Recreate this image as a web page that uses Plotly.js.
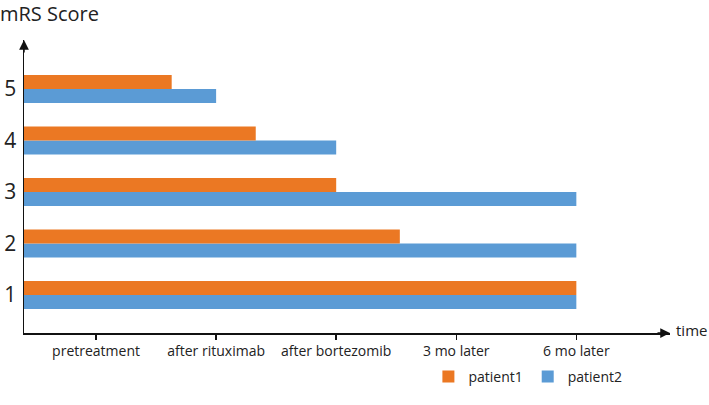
<!DOCTYPE html>
<html>
<head>
<meta charset="utf-8">
<script src="https://cdn.plot.ly/plotly-3.0.1.min.js"></script>
<style>html,body{margin:0;padding:0;background:#fff;}#chart{width:709px;height:405px;}</style>
</head>
<body>
<div id="chart"></div>
<script>
// Data
const scores = [1, 2, 3, 4, 5];
const timeLabels = ["pretreatment", "after rituximab", "after bortezomib", "3 mo later", "6 mo later"];
const timeTickVals = [1, 2, 3, 4, 5];
const patient1 = [5, 3.53, 3, 2.33, 1.63];
const patient2 = [5, 5, 5, 3, 2];

const FONT = "Open Sans, Noto Sans, sans-serif";

const traces = [
  {type: "bar", orientation: "h", name: "patient2", y: scores, x: patient2,
   marker: {color: "#5B9BD5"}, hoverinfo: "none"},
  {type: "bar", orientation: "h", name: "patient1", y: scores, x: patient1,
   marker: {color: "#EB7823"}, hoverinfo: "none"}
];

const layout = {
  width: 709, height: 405,
  margin: {l: 24, r: 39, t: 40, b: 72, autoexpand: false},
  paper_bgcolor: "#fff", plot_bgcolor: "#fff",
  font: {family: FONT, color: "#222"},
  barmode: "group", bargap: 0.456, bargroupgap: 0,
  showlegend: true,
  legend: {orientation: "h", traceorder: "reversed", x: 0.626, xanchor: "left",
           yref: "container", y: 0.03, yanchor: "bottom",
           font: {size: 14, color: "#222"}, itemwidth: 30, tracegroupgap: 0},
  title: {text: "mRS Score", x: 0, xref: "container", xanchor: "left", y: 0.965, yref: "container", yanchor: "middle",
          font: {size: 20, color: "#222"}},
  xaxis: {range: [0.4, 5.78], tickvals: timeTickVals, ticktext: timeLabels, showgrid: false, zeroline: false,
          showline: true, linecolor: "#111", linewidth: 1.5, ticks: "outside", ticklen: 5, tickwidth: 1.5, tickcolor: "#111",
          tickfont: {size: 14, color: "#222"}, fixedrange: true, automargin: false},
  yaxis: {range: [0.26, 5.95], tickvals: scores, showgrid: false, zeroline: false,
          showline: true, linecolor: "#111", linewidth: 1.5, ticks: "", ticklabelstandoff: 2,
          tickfont: {size: 21, color: "#222"}, fixedrange: true, automargin: false},
  annotations: [
    {xref: "paper", yref: "paper", x: 1, y: 0, ax: -14, ay: 0, showarrow: true, arrowhead: 2, arrowsize: 1.3, arrowwidth: 1.5, arrowcolor: "#111", text: ""},
    {xref: "paper", yref: "paper", x: 0, y: 1, ax: 0, ay: 14, showarrow: true, arrowhead: 2, arrowsize: 1.3, arrowwidth: 1.5, arrowcolor: "#111", text: ""},
    {xref: "paper", yref: "paper", x: 1, y: 0, xanchor: "left", yanchor: "middle", xshift: 4, yshift: 3, showarrow: false, text: "time", font: {size: 15, color: "#222"}}
  ]
};

Plotly.newPlot("chart", traces, layout, {displayModeBar: false, staticPlot: true});
</script>
</body>
</html>
